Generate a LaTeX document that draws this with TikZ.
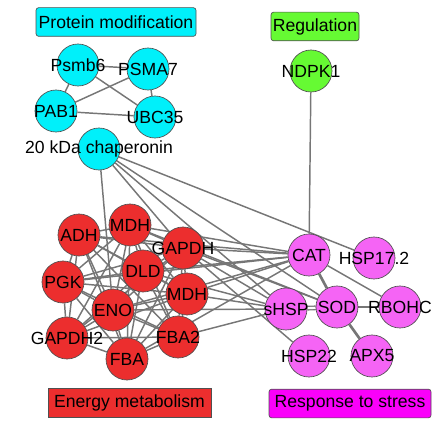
\documentclass[tikz,border=0pt]{standalone}
\usepackage{fontspec}
\setmainfont{Liberation Sans}
\usetikzlibrary{backgrounds}
\definecolor{cyanN}{RGB}{0,240,250}
\definecolor{greenN}{RGB}{102,250,51}
\definecolor{redN}{RGB}{236,46,46}
\definecolor{magN}{RGB}{245,100,245}
\definecolor{magB}{RGB}{250,0,250}
\definecolor{edgeC}{RGB}{118,118,118}
\definecolor{bord}{RGB}{80,80,80}
\tikzset{
  gene/.style={circle, draw=bord, line width=0.5pt, minimum size=31.5pt, inner sep=0pt},
  cy/.style={gene, fill=cyanN},
  gr/.style={gene, fill=greenN},
  rd/.style={gene, fill=redN},
  mg/.style={gene, fill=magN},
  catbox/.style={draw=bord, line width=0.5pt, inner sep=1pt, minimum height=21.5pt},
  edge/.style={draw=edgeC, line width=1.1pt},
  thickedge/.style={draw=edgeC, line width=2pt},
  every label/.style={inner sep=0pt, font=\fontsize{13.2}{15}\selectfont},
}
\begin{document}
\begin{tikzpicture}[x=0.75pt, y=-0.75pt, font=\fontsize{13.2}{15}\selectfont]
\useasboundingbox (0,0) rectangle (445,423);
% category labels
\node[catbox, fill=cyanN, rounded corners=2pt, minimum width=120pt] (pm) at (116,22) {Protein modification};
\node[catbox, fill=greenN, rounded corners=2pt, minimum width=66pt] (reg) at (315,26.5) {Regulation};
\node[catbox, fill=redN, minimum width=122pt] (em) at (129.5,402.5) {Energy metabolism};
\node[catbox, fill=magB, rounded corners=2pt, minimum width=121.5pt] (rs) at (350,403.5) {Response to stress};
% protein modification
\node[cy, label=center:Psmb6] (Psmb6) at (78,65) {};
\node[cy, label=center:PSMA7] (PSMA7) at (148,69) {};
\node[cy, label=center:PAB1] (PAB1) at (56,111) {};
\node[cy, label=center:UBC35] (UBC35) at (155,117) {};
\node[cy, label=center:20 kDa chaperonin] (chap) at (99,149) {};
% regulation
\node[gr, label=center:NDPK1] (NDPK1) at (311,71) {};
% energy metabolism
\node[rd, label=center:ADH] (ADH) at (79,235) {};
\node[rd, label=center:MDH] (MDHa) at (130,225) {};
\node[rd, label=center:GAPDH] (GAPDH) at (183,248) {};
\node[rd, label=center:DLD] (DLD) at (143,271) {};
\node[rd, label=center:PGK] (PGK) at (63,282) {};
\node[rd, label=center:MDH] (MDHb) at (187,294) {};
\node[rd, label=center:ENO] (ENO) at (113,310) {};
\node[rd, label=center:FBA2] (FBA2) at (178,337) {};
\node[rd, label=center:GAPDH2] (GAPDH2) at (67,338) {};
\node[rd, label=center:FBA] (FBA) at (127,359) {};
% response to stress
\node[mg, label=center:CAT] (CAT) at (309,255) {};
\node[mg, label=center:HSP17.2] (HSP) at (374,258) {};
\node[mg, label=center:sHSP] (sHSP) at (286,309) {};
\node[mg, label=center:SOD] (SOD) at (337,307) {};
\node[mg, label=center:RBOHC] (RBOHC) at (400,307) {};
\node[mg, label=center:HSP22] (HSP22) at (309,356) {};
\node[mg, label=center:APX5] (APX5) at (372,356) {};
\begin{scope}[on background layer]
\foreach \a/\b in {Psmb6/PSMA7, Psmb6/PAB1, Psmb6/UBC35, PSMA7/PAB1, PSMA7/UBC35, PAB1/UBC35,
  NDPK1/CAT, chap/HSP, chap/ENO, chap/GAPDH, chap/sHSP, chap/SOD}
  \draw[edge] (\a) -- (\b);
% energy cluster, dense
\foreach \a/\b in {ADH/MDHa, ADH/GAPDH, ADH/DLD, ADH/PGK, ADH/MDHb, ADH/ENO, ADH/FBA2, ADH/GAPDH2, ADH/FBA,
  MDHa/GAPDH, MDHa/DLD, MDHa/PGK, MDHa/MDHb, MDHa/ENO, MDHa/FBA2, MDHa/GAPDH2, MDHa/FBA,
  GAPDH/DLD, GAPDH/PGK, GAPDH/MDHb, GAPDH/ENO, GAPDH/FBA2, GAPDH/GAPDH2, GAPDH/FBA,
  DLD/PGK, DLD/MDHb, DLD/ENO, DLD/FBA2, DLD/GAPDH2, DLD/FBA,
  PGK/MDHb, PGK/ENO, PGK/FBA2, PGK/GAPDH2, PGK/FBA,
  MDHb/ENO, MDHb/FBA2, MDHb/GAPDH2, MDHb/FBA,
  ENO/FBA2, ENO/GAPDH2, ENO/FBA,
  FBA2/GAPDH2, FBA2/FBA, GAPDH2/FBA}
  \draw[edge] (\a) -- (\b);
% cross edges
\foreach \a/\b in {ADH/CAT, MDHa/CAT, GAPDH/CAT, DLD/CAT, MDHb/CAT, ENO/CAT, FBA/CAT, PGK/CAT,
  MDHb/sHSP, FBA2/sHSP, GAPDH/sHSP, DLD/sHSP, ENO/sHSP,
  GAPDH/SOD, MDHa/SOD, GAPDH/HSP22}
  \draw[edge] (\a) -- (\b);
% stress cluster
\draw[thickedge] (CAT) -- (SOD);
\draw[thickedge] (SOD) -- (APX5);
\draw[edge] (CAT) -- (RBOHC);
\draw[edge] (SOD) -- (RBOHC);
\draw[draw=edgeC, line width=1pt, double=white, double distance=1.6pt] (sHSP) -- (SOD);
\end{scope}
\end{tikzpicture}
\end{document}
